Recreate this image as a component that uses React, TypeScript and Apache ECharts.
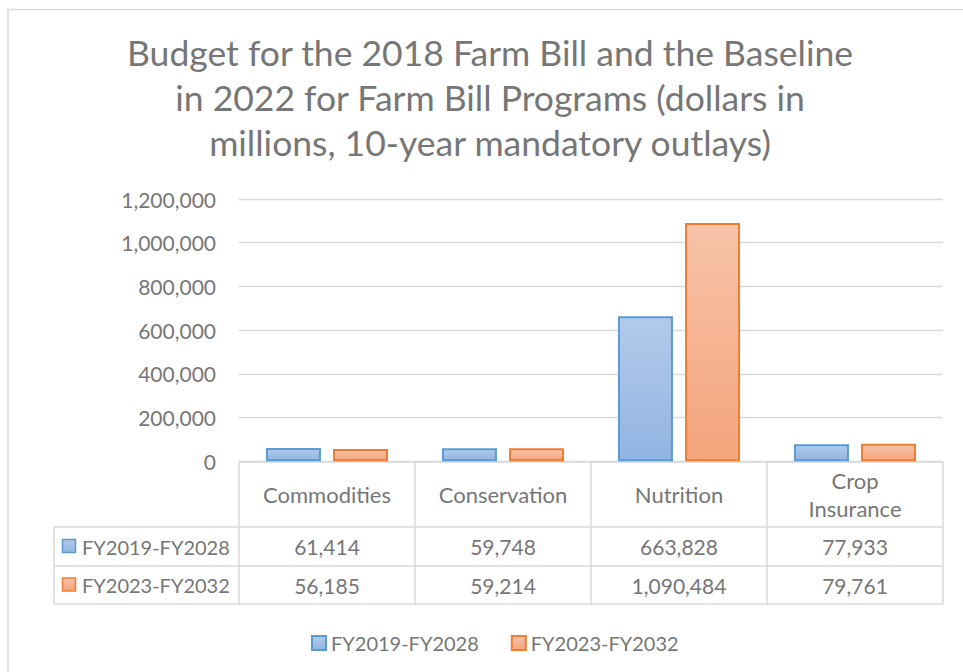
import React, { useEffect, useRef } from 'react';
import * as echarts from 'echarts';

const titleText =
  'Budget for the 2018 Farm Bill and the Baseline\nin 2022 for Farm Bill Programs (dollars in\nmillions, 10-year mandatory outlays)';
const categories = ['Commodities', 'Conservation', 'Nutrition', 'Crop\nInsurance'];
const seriesNames = ['FY2019-FY2028', 'FY2023-FY2032'];
const fy2019to2028 = [61414, 59748, 663828, 77933];
const fy2023to2032 = [56185, 59214, 1090484, 79761];
const yMin = 0;
const yMax = 1200000;
const yInterval = 200000;

const TEXT = '#767676';
const LINE = '#d9d9d9';
const FONT = 'Lato, "Open Sans", sans-serif';

const fmt = (v: number) => v.toLocaleString('en-US');

const grad = (top: string, bottom: string) =>
  new echarts.graphic.LinearGradient(0, 0, 0, 1, [
    { offset: 0, color: top },
    { offset: 1, color: bottom },
  ]);

const blueStyle = () => ({ color: grad('#b3cbea', '#91b4e1'), borderColor: '#5b9bd5', borderWidth: 2 });
const orangeStyle = () => ({ color: grad('#f7c3a9', '#f4a47b'), borderColor: '#ed7d31', borderWidth: 2 });

export default function App() {
  const ref = useRef<HTMLDivElement>(null);
  useEffect(() => {
    if (!ref.current) return;
    const chart = echarts.init(ref.current, undefined, { renderer: 'svg' });
    const rowData = [fy2019to2028, fy2023to2032];
    const rowStyles = [blueStyle(), orangeStyle()];
    const rowCenters = [546.5, 585];
    const tableLeft = 54;
    const tableRight = 943;

    const graphic: any[] = [
      {
        type: 'rect',
        z: -10,
        shape: { x: 8, y: 9.5, width: 1000, height: 700 },
        style: { fill: 'none', stroke: LINE, lineWidth: 1.5 },
      },
      ...[527, 566, 604].map((y) => ({
        type: 'line',
        shape: { x1: tableLeft, y1: y, x2: tableRight, y2: y },
        style: { stroke: LINE, lineWidth: 1.5 },
      })),
      {
        type: 'line',
        shape: { x1: tableLeft, y1: 527, x2: tableLeft, y2: 604 },
        style: { stroke: LINE, lineWidth: 1.5 },
      },
    ];
    seriesNames.forEach((name, i) => {
      const s = rowStyles[i];
      graphic.push({
        type: 'rect',
        shape: { x: 62.5, y: rowCenters[i] - 7, width: 13, height: 13 },
        style: { fill: s.color, stroke: s.borderColor, lineWidth: 1.5 },
      });
      graphic.push({
        type: 'text',
        x: 82,
        y: rowCenters[i],
        style: {
          text: name,
          fill: TEXT,
          font: `20px ${FONT}`,
          textVerticalAlign: 'middle',
          textAlign: 'left',
        },
      });
    });

    const rowAxis = (idx: number, margin: number) => ({
      type: 'category',
      gridIndex: 0,
      position: 'bottom',
      data: categories,
      axisLine: { show: false, onZero: false },
      axisTick: { show: false },
      splitLine: { show: false },
      axisLabel: {
        interval: 0,
        margin,
        verticalAlign: 'middle',
        color: TEXT,
        fontSize: 21,
        fontFamily: FONT,
        formatter: (_v: string, i: number) => fmt(rowData[idx][i]),
      },
    });

    chart.setOption({
      animation: false,
      title: {
        text: titleText,
        left: 485,
        textAlign: 'center',
        top: 25,
        textStyle: {
          color: TEXT,
          fontSize: 35.5,
          fontWeight: 'normal',
          fontFamily: FONT,
          lineHeight: 45,
        },
      },
      legend: {
        data: seriesNames,
        left: 306,
        top: 628,
        itemWidth: 14,
        itemHeight: 14,
        itemGap: 32,
        icon: 'rect',
        textStyle: { color: TEXT, fontSize: 20, fontFamily: FONT },
      },
      grid: { left: 239, right: 20, top: 199, bottom: 210.7, containLabel: false },
      xAxis: [
        {
          type: 'category',
          data: categories,
          axisLine: { show: true, lineStyle: { color: LINE, width: 1.5 } },
          axisTick: { show: true, length: 143, lineStyle: { color: LINE, width: 1.5 } },
          axisLabel: {
            interval: 0,
            margin: 33,
            verticalAlign: 'middle',
            lineHeight: 28,
            color: TEXT,
            fontSize: 22,
            fontFamily: FONT,
          },
        },
        rowAxis(0, 85.5),
        rowAxis(1, 124),
      ],
      yAxis: {
        type: 'value',
        min: yMin,
        max: yMax,
        interval: yInterval,
        axisLine: { show: false },
        axisTick: { show: false },
        splitLine: { lineStyle: { color: LINE, width: 1.3 } },
        axisLabel: {
          margin: 23,
          color: TEXT,
          fontSize: 21,
          fontFamily: FONT,
          formatter: (v: number) => fmt(v),
        },
      },
      series: [
        {
          name: seriesNames[0],
          type: 'bar',
          data: fy2019to2028,
          barWidth: 55,
          barGap: '22%',
          itemStyle: blueStyle(),
        },
        {
          name: seriesNames[1],
          type: 'bar',
          data: fy2023to2032,
          barWidth: 55,
          barGap: '22%',
          itemStyle: orangeStyle(),
        },
      ],
      graphic,
    });
    return () => chart.dispose();
  }, []);
  return (
    <div
      ref={ref}
      style={{ position: 'fixed', left: 0, top: 0, width: 963, height: 672, background: '#fff' }}
    />
  );
}
